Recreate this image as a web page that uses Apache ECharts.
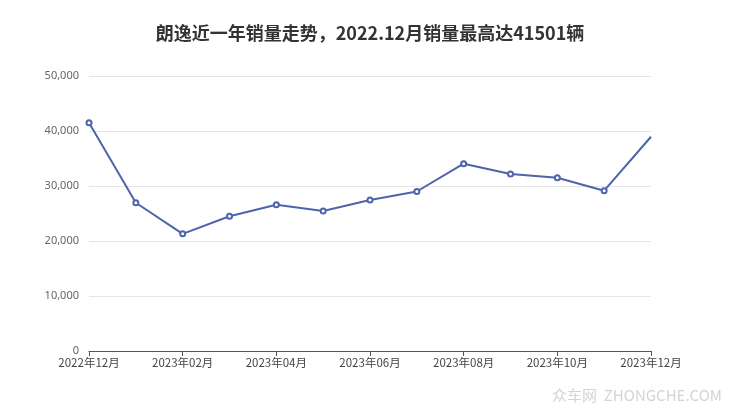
<!DOCTYPE html>
<html>
<head>
<meta charset="utf-8">
<script src="https://cdn.jsdelivr.net/npm/echarts@6/dist/echarts.min.js"></script>
<style>html,body{margin:0;padding:0;background:#fff;}#c{width:740px;height:417px;}</style>
</head>
<body>
<div id="c"></div>
<script>
const titleText = '朗逸近一年销量走势，2022.12月销量最高达41501辆';
const months = ['2022年12月','2023年01月','2023年02月','2023年03月','2023年04月','2023年05月','2023年06月','2023年07月','2023年08月','2023年09月','2023年10月','2023年11月','2023年12月'];
const sales = [41501, 26950, 21300, 24500, 26600, 25450, 27450, 29000, 34050, 32200, 31500, 29150, 38950];
const yTicks = [0, 10000, 20000, 30000, 40000, 50000];

const chart = echarts.init(document.getElementById('c'), null, {renderer: 'canvas'});
const data = sales.map((v, i) => i === sales.length - 1 ? {value: v, symbol: 'none'} : v);
chart.setOption({
  animation: false,
  backgroundColor: '#fff',
  title: {
    text: titleText, left: 'center', top: 19,
    textStyle: {fontSize: 18, fontWeight: 'bold', color: '#333', fontFamily: 'Noto Sans CJK SC, sans-serif'}
  },
  grid: {left: 89, right: 89, top: 76, bottom: 66},
  xAxis: {
    type: 'category', data: months, boundaryGap: false,
    axisLine: {lineStyle: {color: '#555'}},
    axisTick: {interval: 1, length: 5, lineStyle: {color: '#555'}},
    axisLabel: {interval: 1, color: '#444', fontSize: 11.5, margin: 6, fontFamily: 'Noto Sans CJK SC, sans-serif'}
  },
  yAxis: {
    type: 'value', min: yTicks[0], max: yTicks[yTicks.length - 1], interval: 10000,
    axisLine: {show: false}, axisTick: {show: false},
    splitLine: {lineStyle: {color: '#e6e6e6'}},
    axisLabel: {color: '#666', fontSize: 11, margin: 10,
      formatter: v => v.toLocaleString('en-US'), fontFamily: 'Noto Sans, sans-serif'}
  },
  series: [{
    type: 'line', data: data, symbol: 'emptyCircle', symbolSize: 5, showAllSymbol: true,
    lineStyle: {width: 2, color: '#4e64aa'}, itemStyle: {color: '#4e64aa', borderWidth: 1.5}
  }],
  graphic: [{
    type: 'text', right: 18, top: 388,
    style: {text: '众车网  ZHONGCHE.COM', fill: '#d4d4d4', font: '15px "Noto Sans CJK SC", sans-serif',
      shadowColor: 'rgba(0,0,0,0.3)', shadowBlur: 1, shadowOffsetX: 1, shadowOffsetY: 1}
  }]
});
</script>
</body>
</html>
